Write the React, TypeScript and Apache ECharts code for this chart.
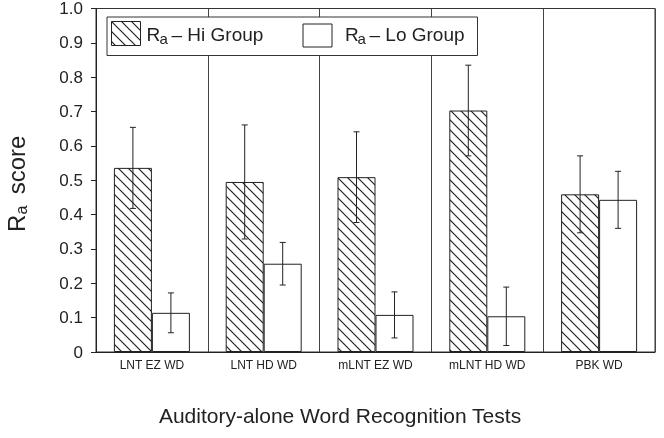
import React, { useEffect, useRef } from "react";
import * as echarts from "echarts";

const categories = ["LNT EZ WD", "LNT HD WD", "mLNT EZ WD", "mLNT HD WD", "PBK WD"];
const hiValues = [0.536, 0.495, 0.509, 0.703, 0.459];
const hiErrors = [0.118, 0.166, 0.132, 0.132, 0.112];
const loValues = [0.114, 0.257, 0.108, 0.104, 0.443];
const loErrors = [0.058, 0.062, 0.067, 0.085, 0.083];
const seriesNames = ["Ra – Hi Group", "Ra – Lo Group"];

const FONT = "'Liberation Sans', Arial, Helvetica, sans-serif";
const INK = "#222";

function makeHatch(): HTMLCanvasElement {
  const c = document.createElement("canvas");
  c.width = 10;
  c.height = 10;
  const ctx = c.getContext("2d")!;
  ctx.fillStyle = "#fff";
  ctx.fillRect(0, 0, 10, 10);
  ctx.strokeStyle = INK;
  ctx.lineWidth = 1.2;
  ctx.beginPath();
  ctx.moveTo(-2, -2);
  ctx.lineTo(12, 12);
  ctx.moveTo(-2, 8);
  ctx.lineTo(2, 12);
  ctx.moveTo(8, -2);
  ctx.lineTo(12, 2);
  ctx.stroke();
  return c;
}

function errRender(offset: number) {
  return (params: any, api: any) => {
    const idx = api.value(0);
    const low = api.coord([idx, api.value(1)]);
    const high = api.coord([idx, api.value(2)]);
    const x = low[0] + offset;
    const cap = 3;
    const st = { stroke: INK, lineWidth: 1 };
    return {
      type: "group",
      children: [
        { type: "line", shape: { x1: x, y1: high[1], x2: x, y2: low[1] }, style: st },
        { type: "line", shape: { x1: x - cap, y1: high[1], x2: x + cap, y2: high[1] }, style: st },
        { type: "line", shape: { x1: x - cap, y1: low[1], x2: x + cap, y2: low[1] }, style: st },
      ],
    };
  };
}

export default function App() {
  const ref = useRef<HTMLDivElement>(null);
  useEffect(() => {
    if (!ref.current) return;
    const chart = echarts.init(ref.current, null, { renderer: "svg" });
    const hatch = { image: makeHatch(), repeat: "repeat" } as any;

    const legendText = (xR: number, xa: number, xMain: number, main: string) => [
      { type: "text", z: 101, x: xR, y: 34.5, style: { text: "R", font: `19px ${FONT}`, fill: INK, verticalAlign: "middle" } },
      { type: "text", z: 101, x: xa, y: 38.8, style: { text: "a", font: `15px ${FONT}`, fill: INK, verticalAlign: "middle" } },
      { type: "text", z: 101, x: xMain, y: 34.5, style: { text: main, font: `19px ${FONT}`, fill: INK, verticalAlign: "middle" } },
    ];

    chart.setOption({
      animation: false,
      grid: { left: 96, right: 9, top: 8, bottom: 86, show: true, borderColor: "#333", borderWidth: 1 },
      xAxis: {
        type: "category",
        data: categories,
        axisLine: { lineStyle: { color: INK } },
        axisTick: { show: false },
        splitLine: { show: true, interval: 0, lineStyle: { color: "#444", width: 1 } },
        axisLabel: { fontSize: 12, fontFamily: FONT, color: INK, margin: 7, interval: 0 },
      },
      yAxis: {
        type: "value",
        min: 0,
        max: 1,
        interval: 0.1,
        axisLine: { show: true, lineStyle: { color: INK } },
        axisTick: { show: true, length: 5, lineStyle: { color: INK } },
        splitLine: { show: false },
        axisLabel: {
          fontSize: 17,
          fontFamily: FONT,
          color: INK,
          margin: 13,
          formatter: (v: number) => (v === 0 ? "0" : v.toFixed(1)),
        },
      },
      series: [
        {
          name: seriesNames[0],
          type: "bar",
          data: hiValues,
          barWidth: 38,
          barGap: "0%",
          itemStyle: { color: hatch, borderColor: INK, borderWidth: 1 },
        },
        {
          name: seriesNames[1],
          type: "bar",
          data: loValues,
          barWidth: 38,
          barGap: "0%",
          itemStyle: { color: "#fff", borderColor: INK, borderWidth: 1 },
        },
        {
          type: "custom",
          z: 5,
          renderItem: errRender(-19),
          encode: { x: 0, y: [1, 2] },
          data: hiValues.map((v, i) => [i, v - hiErrors[i], v + hiErrors[i]]),
        },
        {
          type: "custom",
          z: 5,
          renderItem: errRender(19),
          encode: { x: 0, y: [1, 2] },
          data: loValues.map((v, i) => [i, v - loErrors[i], v + loErrors[i]]),
        },
      ],
      graphic: [
        {
          type: "rect",
          z: 100,
          shape: { x: 107, y: 17, width: 370.5, height: 38.5 },
          style: { fill: "#fff", stroke: "#333", lineWidth: 1 },
        },
        {
          type: "rect",
          z: 101,
          shape: { x: 111.5, y: 21.5, width: 29, height: 24 },
          style: { fill: hatch, stroke: INK, lineWidth: 1 },
        },
        {
          type: "rect",
          z: 101,
          shape: { x: 303, y: 24, width: 29, height: 23 },
          style: { fill: "#fff", stroke: INK, lineWidth: 1 },
        },
        ...legendText(146.5, 159.5, 171.5, "– Hi Group"),
        ...legendText(345, 357.5, 369.5, "– Lo Group"),
        {
          type: "group",
          x: 16.5,
          y: 232,
          rotation: Math.PI / 2,
          children: [
            { type: "text", x: 0, y: 0, style: { text: "R", font: `24px ${FONT}`, fill: INK, verticalAlign: "middle" } },
            { type: "text", x: 17.5, y: 5, style: { text: "a", font: `16px ${FONT}`, fill: INK, verticalAlign: "middle" } },
            { type: "text", x: 31, y: 0, style: { text: " score", font: `24px ${FONT}`, fill: INK, verticalAlign: "middle" } },
          ],
        },
        {
          type: "text",
          x: 340,
          y: 415,
          style: {
            text: "Auditory-alone Word Recognition Tests",
            font: `21px ${FONT}`,
            fill: INK,
            align: "center",
            verticalAlign: "middle",
          },
        },
      ],
    });
    return () => chart.dispose();
  }, []);
  return <div ref={ref} style={{ width: 664, height: 438, position: "fixed", left: 0, top: 0 }} />;
}
